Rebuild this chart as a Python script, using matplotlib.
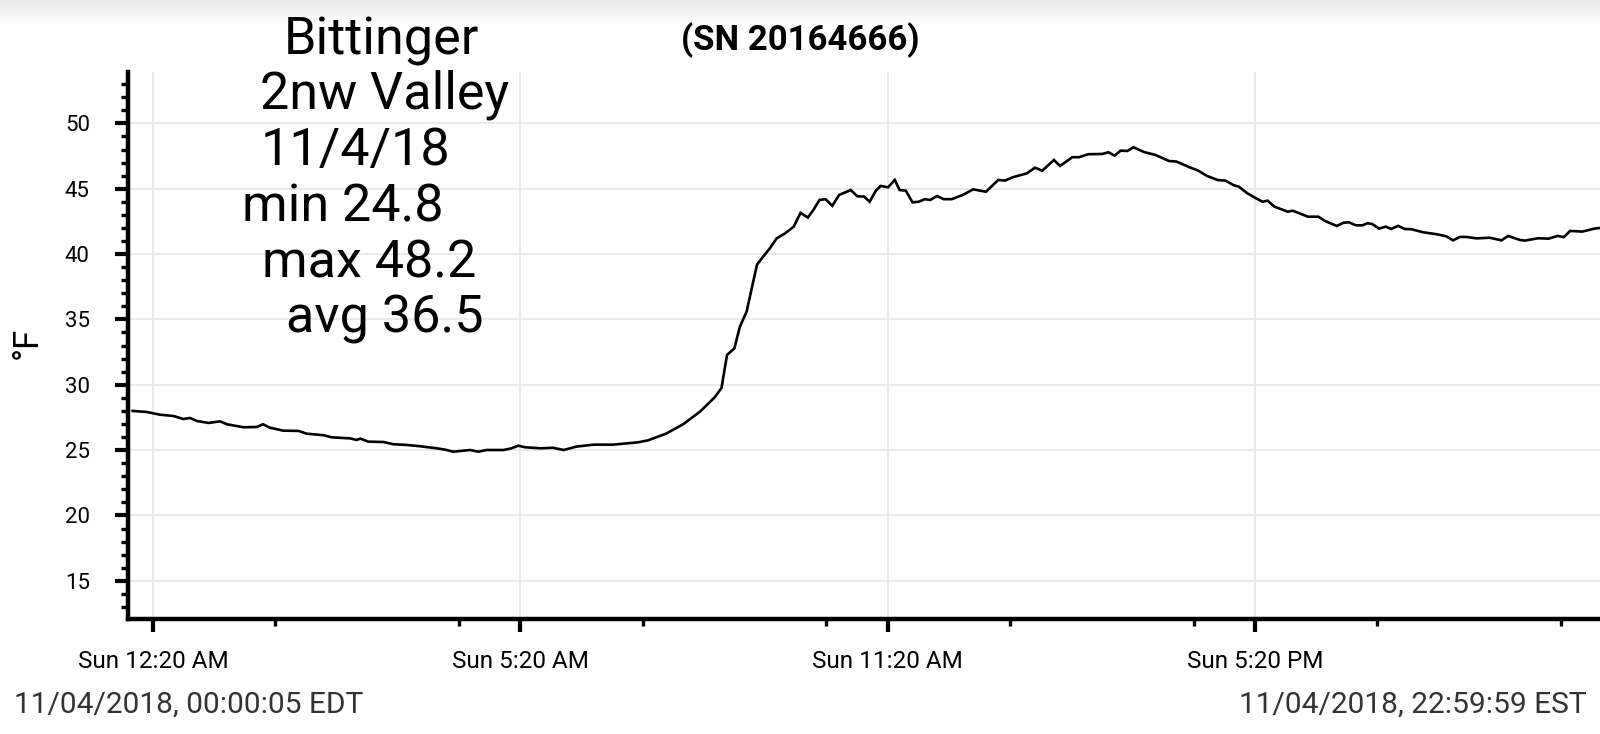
import numpy as np
import matplotlib
matplotlib.use("Agg")
import matplotlib.pyplot as plt
from matplotlib.ticker import FixedLocator, MultipleLocator

plt.rcParams['font.family'] = ['Roboto', 'DejaVu Sans']

# elapsed hours since 00:00 EDT (clock falls back at 2 AM, so 24 h total)
hours = [0.00, 0.23, 0.45, 0.67, 0.83, 0.94, 1.05, 1.24, 1.43, 1.54, 1.81, 2.03, 2.13, 2.24,
         2.46, 2.71, 2.84, 3.12, 3.25, 3.55, 3.66, 3.72, 3.85, 4.10, 4.26, 4.47, 4.69, 4.97,
         5.10, 5.24, 5.51, 5.65, 5.78, 6.06, 6.19, 6.30, 6.41, 6.66, 6.87, 7.04, 7.25, 7.53,
         7.85, 8.07, 8.26, 8.42, 8.72, 9.00, 9.27, 9.51, 9.62, 9.71, 9.83, 9.92, 10.03, 10.20,
         10.30, 10.41, 10.52, 10.66, 10.80, 10.91, 11.03, 11.12, 11.22, 11.32, 11.43, 11.54,
         11.73, 11.84, 11.95, 12.04, 12.14, 12.22, 12.34, 12.45, 12.53, 12.63, 12.74, 12.84,
         12.94, 13.03, 13.14, 13.25, 13.38, 13.56, 13.73, 13.94, 14.14, 14.25, 14.38, 14.61,
         14.74, 14.86, 15.05, 15.15, 15.35, 15.46, 15.61, 15.84, 15.94, 16.04, 16.14, 16.25,
         16.35, 16.52, 16.71, 16.93, 17.05, 17.26, 17.40, 17.55, 17.72, 17.85, 17.99, 18.07,
         18.21, 18.35, 18.46, 18.54, 18.65, 18.87, 18.95, 19.20, 19.37, 19.48, 19.67, 19.78,
         19.87, 19.98, 20.09, 20.17, 20.25, 20.36, 20.47, 20.56, 20.67, 20.78, 20.89, 21.08,
         21.30, 21.46, 21.57, 21.68, 21.79, 21.95, 22.17, 22.36, 22.47, 22.66, 22.74, 22.96,
         23.13, 23.28, 23.38, 23.48, 23.68, 23.90, 24.00]
temp_f = [28.0, 27.92, 27.71, 27.61, 27.38, 27.46, 27.23, 27.08, 27.2, 26.98, 26.75, 26.77, 26.98, 26.72,
          26.49, 26.47, 26.26, 26.14, 25.98, 25.9, 25.78, 25.88, 25.65, 25.62, 25.45, 25.4, 25.3, 25.14,
          25.04, 24.88, 25.01, 24.88, 25.01, 25.01, 25.14, 25.34, 25.22, 25.14, 25.18, 25.01, 25.27, 25.42,
          25.42, 25.52, 25.6, 25.75, 26.27, 27.0, 27.95, 29.05, 29.76, 32.28, 32.79, 34.44, 35.6, 39.2,
          39.8, 40.44, 41.2, 41.59, 42.1, 43.15, 42.8, 43.37, 44.14, 44.2, 43.69, 44.52,
          44.9, 44.42, 44.4, 44.0, 44.85, 45.21, 45.11, 45.67, 44.9, 44.85, 43.96, 44.0,
          44.2, 44.14, 44.44, 44.2, 44.2, 44.52, 44.95, 44.77, 45.67, 45.62, 45.88, 46.18,
          46.61, 46.38, 47.2, 46.74, 47.41, 47.41, 47.64, 47.66, 47.79, 47.53, 47.91, 47.89,
          48.17, 47.81, 47.58, 47.12, 47.08, 46.65, 46.4, 45.98, 45.67, 45.62, 45.26, 45.16,
          44.65, 44.27, 44.0, 44.09, 43.63, 43.24, 43.32, 42.86, 42.86, 42.53, 42.15, 42.4,
          42.43, 42.2, 42.2, 42.36, 42.3, 41.95, 42.1, 41.92, 42.16, 41.92, 41.9, 41.67,
          41.52, 41.36, 41.05, 41.31, 41.31, 41.2, 41.25, 41.05, 41.39, 41.08, 41.03, 41.21,
          41.18, 41.39, 41.29, 41.77, 41.72, 41.97, 42.0]

tick_hours = [1/3, 6 + 1/3, 12 + 1/3, 18 + 1/3]
tick_labels = ["Sun 12:20 AM", "Sun 5:20 AM", "Sun 11:20 AM", "Sun 5:20 PM"]
minor_hours = [2 + 1/3, 5 + 1/3, 8 + 1/3, 11 + 1/3, 14 + 1/3, 17 + 1/3, 20 + 1/3, 23 + 1/3]
y_ticks = [15, 20, 25, 30, 35, 40, 45, 50]

note_lines = ["Bittinger", "2nw Valley", "11/4/18", "min 24.8", "max 48.2", "avg 36.5"]
title = "(SN 20164666)"
start_stamp = "11/04/2018, 00:00:05 EDT"
end_stamp = "11/04/2018, 22:59:59 EST"

W, H = 1600, 734
fig = plt.figure(figsize=(16, 7.34), dpi=100)

# light shading band at the very top of the screenshot
band = fig.add_axes([0, 1 - 26 / H, 1, 26 / H])
band.imshow(np.linspace(0.91, 1.0, 50).reshape(-1, 1), cmap='gray', vmin=0, vmax=1,
            aspect='auto', extent=[0, 1, 0, 1])
band.axis('off')

ax = fig.add_axes([128 / W, 1 - 619 / H, 1 - 128 / W, (619 - 72) / H])
ax.plot(hours, temp_f, color='black', lw=1.9, solid_joinstyle='miter')

ax.set_xlim(-0.075, 23.97)
ax.set_ylim(12.08, 53.93)

ax.xaxis.set_major_locator(FixedLocator(tick_hours))
ax.xaxis.set_minor_locator(FixedLocator(minor_hours))
ax.set_xticklabels(tick_labels)
ax.yaxis.set_major_locator(FixedLocator(y_ticks))
ax.yaxis.set_minor_locator(MultipleLocator(1))

for s in ['top', 'right']:
    ax.spines[s].set_visible(False)
for s in ['left', 'bottom']:
    ax.spines[s].set_linewidth(3.2)

ax.tick_params(axis='both', which='major', length=9.5, width=3, color='black')
ax.tick_params(axis='both', which='minor', length=5, width=2.4, color='black')
ax.tick_params(axis='x', which='major', labelsize=17.5, pad=13)
ax.tick_params(axis='y', which='major', labelsize=16, pad=18)

ax.grid(True, which='major', color='#e6e6e6', lw=1.2)
ax.set_axisbelow(True)

# y axis unit label
fig.text(27 / W, 1 - 343 / H, "°F", fontsize=25, rotation=90, ha='center', va='center')

# station annotation, one line at a time
note_x = [284, 260, 261, 242, 262, 286]
note_base = [55, 108, 165, 222, 277, 332]
for txt, lx, by in zip(note_lines, note_x, note_base):
    fig.text(lx / W, 1 - by / H, txt, fontsize=37.5, ha='left', va='baseline', color='black')

fig.text(800 / W, 1 - 50 / H, title, fontsize=25, fontweight='bold', ha='center', va='baseline')
fig.text(14 / W, 1 - 713 / H, start_stamp, fontsize=21.5, color='#333333', ha='left', va='baseline')
fig.text(1587 / W, 1 - 713 / H, end_stamp, fontsize=21.5, color='#333333', ha='right', va='baseline')

fig.savefig("out.png", dpi=100)
